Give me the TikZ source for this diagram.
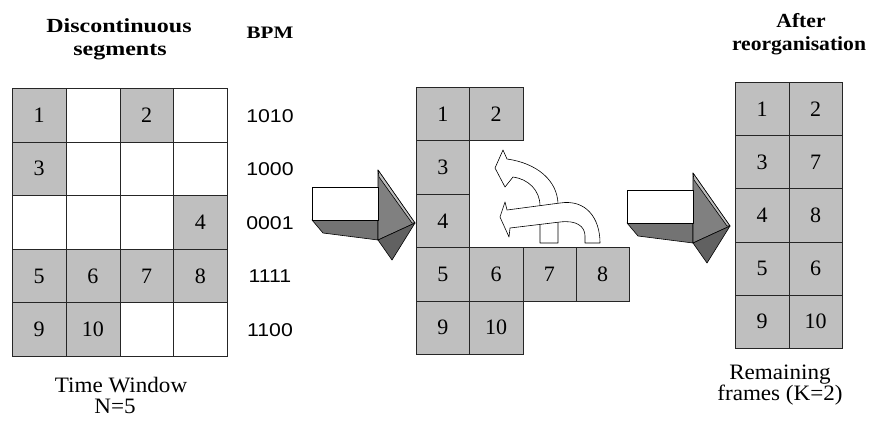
\documentclass[tikz,border=0pt]{standalone}
\usepackage{fontspec}
\setmainfont{Liberation Serif}
\newfontfamily\titlefont{Liberation Serif}[FakeStretch=1.2]
\newfontfamily\titlefontb{Liberation Serif}[FakeStretch=1.08]
\newfontfamily\captfont{Liberation Serif}[FakeStretch=1.05]
\newfontfamily\bpmfont{Liberation Sans}[FakeStretch=1.15]
\newcommand{\blockarrow}[2]{%
  \begin{scope}[shift={(#1,#2)}]
    % shaft underside
    \draw[face, fill=black!55] (0,33) -- (66,33) -- (66,53) -- (11,46) -- cycle;
    % head upper face
    \draw[face, fill=black!50] (66,-17) -- (103,36) -- (66,53) -- cycle;
    % head lower face
    \draw[face, fill=black!62] (66,53) -- (103,36) -- (80,73) -- cycle;
    % thin lit edge of head
    \draw[face, fill=black!25] (66,-17) -- (103,36) -- (100,36) -- (67,-10) -- cycle;
    % shaft front
    \draw[face, fill=white] (0,0) rectangle (66,33);
  \end{scope}}
\tikzset{
  gcell/.style={draw=black!85, line width=0.6pt, inner sep=0pt, anchor=north west,
    font=\fontsize{22}{24}\selectfont},
  bpmnum/.style={font=\bpmfont\fontsize{18.5}{20}\selectfont, inner sep=0pt},
  ttl/.style={font=\titlefont\bfseries\fontsize{20}{23}\selectfont, anchor=base, inner sep=0pt},
  ttlb/.style={font=\titlefontb\bfseries\fontsize{20}{23}\selectfont, anchor=base, inner sep=0pt},
  capt/.style={font=\captfont\fontsize{22}{24}\selectfont, anchor=base, inner sep=0pt},
  curvearrow/.style={draw=black, fill=white, line width=0.6pt, line join=round},
  face/.style={draw=black, line width=0.6pt, line join=round},
}
\begin{document}
\begin{tikzpicture}[x=1pt,y=-1pt]
\useasboundingbox (0,0) rectangle (872,424);

% ---------- titles ----------
\node[ttl] (t1a) at (119,32) {Discontinuous};
\node[ttl] (t1b) at (120,55) {segments};
\node[ttl, font=\titlefont\bfseries\fontsize{17.5}{20}\selectfont] (t2) at (270,38) {BPM};
\node[ttlb] (t3a) at (801,27) {After};
\node[ttlb] (t3b) at (799,50) {reorganisation};

% ---------- left grid ----------
\foreach \c/\r/\t/\f in {0/0/1/black!25, 1/0//white, 2/0/2/black!25, 3/0//white,
                         0/1/3/black!25, 1/1//white, 2/1//white, 3/1//white,
                         0/2//white, 1/2//white, 2/2//white, 3/2/4/black!25,
                         0/3/5/black!25, 1/3/6/black!25, 2/3/7/black!25, 3/3/8/black!25,
                         0/4/9/black!25, 1/4/10/black!25, 2/4//white, 3/4//white}
  \node[gcell, fill=\f, minimum width=53.75pt, minimum height=53.6pt]
    (L-\c-\r) at ({12+53.75*\c},{88+53.6*\r}) {\t};

% ---------- BPM ----------
\node[bpmnum] (b0) at (270,116) {1010};
\node[bpmnum] (b1) at (270,169.5) {1000};
\node[bpmnum] (b2) at (270,223) {0001};
\node[bpmnum] (b3) at (270,276.5) {1111};
\node[bpmnum] (b4) at (270,330) {1100};

\node[capt] (c1a) at (121,392) {Time Window};
\node[capt] (c1b) at (115,413) {N=5};

% ---------- first block arrow ----------
\blockarrow{312}{187}

% ---------- middle grid ----------
\foreach \c/\r/\t in {0/0/1, 1/0/2, 0/1/3, 0/2/4, 0/3/5, 1/3/6, 2/3/7, 3/3/8, 0/4/9, 1/4/10}
  \node[gcell, fill=black!25, minimum width=53.25pt, minimum height=53.4pt]
    (M-\c-\r) at ({416+53.25*\c},{87+53.4*\r}) {\t};

% ---------- curved arrows ----------
\draw[curvearrow] (540,243) -- (540,206)
   .. controls (540,190) and (528,179) .. (513,177)
   -- (505,187) -- (495,168) -- (503,150) -- (507,159)
   .. controls (536,163) and (558,180) .. (558,205)
   -- (558,243) -- cycle;
\draw[curvearrow] (585,243) -- (585,236)
   .. controls (585,226) and (576,220) .. (560,222)
   -- (510,228) -- (509,237) -- (500,217) -- (505,202) -- (507,210)
   -- (560,203)
   .. controls (586,199) and (600,218) .. (600,243) -- cycle;

% ---------- second block arrow ----------
\blockarrow{627}{190}

% ---------- right grid ----------
\foreach \c/\r/\t in {0/0/1, 1/0/2, 0/1/3, 1/1/7, 0/2/4, 1/2/8, 0/3/5, 1/3/6, 0/4/9, 1/4/10}
  \node[gcell, fill=black!25, minimum width=53.5pt, minimum height=53.2pt]
    (R-\c-\r) at ({735+53.5*\c},{82+53.2*\r}) {\t};

\node[capt] (c3a) at (780,379) {Remaining};
\node[capt] (c3b) at (780,400) {frames (K=2)};
\end{tikzpicture}
\end{document}
